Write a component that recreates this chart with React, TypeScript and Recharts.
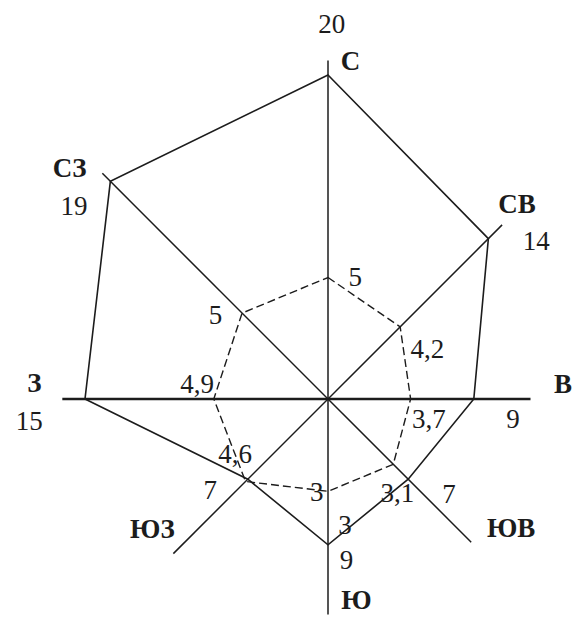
import { PolarAngleAxis, PolarRadiusAxis, Radar, RadarChart } from "recharts";

// румбы, по часовой стрелке от севера
const DIRECTIONS = ["С", "СВ", "В", "ЮВ", "Ю", "ЮЗ", "З", "СЗ"];
// повторяемость ветра (сплошной многоугольник)
const FREQUENCY = [20, 14, 9, 7, 9, 7, 15, 19];
const FREQUENCY_LABELS = ["20", "14", "9", "7", "9", "7", "15", "19"];
const EXTRA_LABELS = ["", "", "", "", "3", "", "", ""];
// скорость ветра (пунктир): значения как нарисовано, подписи как в оригинале
const SPEED = [5, 4.2, 3.4, 3.8, 3.8, 4.8, 4.7, 5];
const SPEED_LABELS = ["5", "4,2", "3,7", "3,1", "3", "4,6", "4,9", "5"];
// длина осей в единицах повторяемости
const AXIS_LENGTH = [20.9, 15.2, 12.5, 12.5, 13.3, 13.5, 16.4, 19.7];

const INK = "#1c1c1c";
const FONT = "'Liberation Serif', 'DejaVu Serif', serif";
const FONT_SIZE = 27;

const AXIS_WIDTH = [1.5, 1.5, 2.6, 1.5, 1.5, 1.5, 2.6, 1.5];
const DIR_OFFSETS = [[22.5, 10], [15, -11.7], [32.5, -6.5], [40, -4.7], [28.5, -5], [-21, -15.7], [-28, -7.3], [-32.8, 4]];
const FREQ_OFFSETS = [[3.7, -42.3], [47.8, 11], [39.3, 29], [40.7, 23.4], [18.5, 24.4], [-37.6, 19.4], [-55.7, 31], [-36.3, 33.3]];
const EXTRA_OFFSETS = [[0, 0], [0, 0], [0, 0], [0, 0], [17, -10.6], [0, 0], [0, 0], [0, 0]];
const SPEED_OFFSETS = [[27.3, 8], [27.3, 31], [18.3, 29], [4, 37.4], [-11.3, 10], [-10.5, -18.3], [-16.7, -6], [-26.7, 10.7]];

const data = DIRECTIONS.map((dir, i) => ({
  dir,
  axis: AXIS_LENGTH[i],
  freq: FREQUENCY[i],
  speed: SPEED[i],
}));

type Pt = { x: number; y: number; cx: number; cy: number };

function Label({ x, y, text, bold }: { x: number; y: number; text: string; bold?: boolean }) {
  if (!text) return null;
  return (
    <text
      x={x}
      y={y}
      textAnchor="middle"
      fontFamily={FONT}
      fontSize={FONT_SIZE}
      fontWeight={bold ? "bold" : "normal"}
      fill={INK}
    >
      {text}
    </text>
  );
}

function AxisShape(props: any) {
  const points: Pt[] = props.points ?? [];
  return (
    <g>
      {points.map((p, i) => (
        <line key={i} x1={p.cx} y1={p.cy} x2={p.x} y2={p.y} stroke={INK} strokeWidth={AXIS_WIDTH[i]} />
      ))}
      {points.map((p, i) => (
        <Label key={"d" + i} x={p.x + DIR_OFFSETS[i][0]} y={p.y + DIR_OFFSETS[i][1]} text={DIRECTIONS[i]} bold />
      ))}
    </g>
  );
}

function FreqShape(props: any) {
  const points: Pt[] = props.points ?? [];
  return (
    <g>
      <polygon points={points.map((p) => `${p.x},${p.y}`).join(" ")} fill="none" stroke={INK} strokeWidth={1.6} />
      {points.map((p, i) => (
        <Label key={"f" + i} x={p.x + FREQ_OFFSETS[i][0]} y={p.y + FREQ_OFFSETS[i][1]} text={FREQUENCY_LABELS[i]} />
      ))}
      {points.map((p, i) => (
        <Label key={"e" + i} x={p.x + EXTRA_OFFSETS[i][0]} y={p.y + EXTRA_OFFSETS[i][1]} text={EXTRA_LABELS[i]} />
      ))}
    </g>
  );
}

function SpeedShape(props: any) {
  const points: Pt[] = props.points ?? [];
  return (
    <g>
      <polygon
        points={points.map((p) => `${p.x},${p.y}`).join(" ")}
        fill="none"
        stroke={INK}
        strokeWidth={1.4}
        strokeDasharray="8 4"
      />
      {points.map((p, i) => (
        <Label key={"s" + i} x={p.x + SPEED_OFFSETS[i][0]} y={p.y + SPEED_OFFSETS[i][1]} text={SPEED_LABELS[i]} />
      ))}
    </g>
  );
}

export default function App() {
  return (
    <div style={{ position: "absolute", left: 0, top: 0, width: 573, height: 617, background: "#fff" }}>
      <RadarChart
        width={573}
        height={617}
        data={data}
        cx={328}
        cy={399}
        outerRadius={340.2}
        margin={{ top: 0, right: 0, bottom: 0, left: 0 }}
      >
        <PolarAngleAxis dataKey="dir" tick={false} axisLine={false} />
        <PolarRadiusAxis radiusAxisId="freq" domain={[0, 21]} tick={false} axisLine={false} />
        <PolarRadiusAxis radiusAxisId="speed" domain={[0, 13.8]} tick={false} axisLine={false} />
        <Radar dataKey="axis" radiusAxisId="freq" shape={AxisShape} isAnimationActive={false} />
        <Radar dataKey="freq" radiusAxisId="freq" shape={FreqShape} isAnimationActive={false} />
        <Radar dataKey="speed" radiusAxisId="speed" shape={SpeedShape} isAnimationActive={false} />
      </RadarChart>
    </div>
  );
}
